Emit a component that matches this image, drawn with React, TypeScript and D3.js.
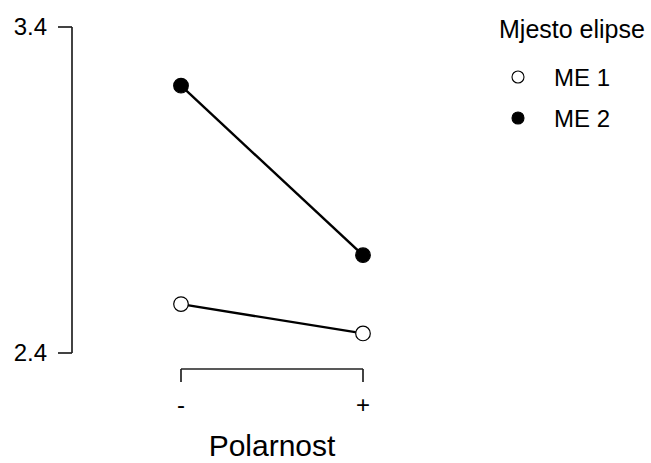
import * as d3 from "d3";

// Interaction plot: mean per polarity level, one line per ellipse position
const levels = ["-", "+"];
const me1 = [2.55, 2.46];
const me2 = [3.22, 2.7];
const yTicks = [2.4, 3.4];
const seriesNames = ["ME 1", "ME 2"];

const FONT = "'Liberation Sans', Arial, sans-serif";

export default function App() {
  const width = 651;
  const height = 463;

  const x = d3.scalePoint<string>().domain(levels).range([181, 363]);
  const y = d3.scaleLinear().domain([2.4, 3.4]).range([353, 27]);

  const line = d3
    .line<number>()
    .x((_, i) => x(levels[i])!)
    .y((d) => y(d));

  const series = [
    { name: seriesNames[0], values: me1, fill: "#fff" },
    { name: seriesNames[1], values: me2, fill: "#000" },
  ];

  const axisColor = "#222";
  const x0 = x(levels[0])!;
  const x1 = x(levels[levels.length - 1])!;
  const axisY = 369;

  return (
    <svg
      width={width}
      height={height}
      style={{ position: "absolute", left: 0, top: 0, background: "#fff" }}
      fontFamily={FONT}
    >
      {/* y axis */}
      <line x1={72} x2={72} y1={y(3.4)} y2={y(2.4)} stroke={axisColor} strokeWidth={1.7} />
      {yTicks.map((t) => (
        <g key={t}>
          <line x1={58} x2={72} y1={y(t)} y2={y(t)} stroke={axisColor} strokeWidth={1.7} />
          <text x={47} y={y(t)} dy="0.35em" textAnchor="end" fontSize={24} fill="#000">
            {t.toFixed(1)}
          </text>
        </g>
      ))}

      {/* x axis */}
      <line x1={x0} x2={x1} y1={axisY} y2={axisY} stroke={axisColor} strokeWidth={1.7} />
      {levels.map((l) => (
        <g key={l}>
          <line x1={x(l)} x2={x(l)} y1={axisY} y2={axisY + 13} stroke={axisColor} strokeWidth={1.7} />
          <text x={x(l)} y={413} textAnchor="middle" fontSize={24} fill="#000">
            {l}
          </text>
        </g>
      ))}
      <text x={272} y={456} textAnchor="middle" fontSize={30} fill="#000">
        Polarnost
      </text>

      {/* series */}
      {series.map((s) => (
        <g key={s.name}>
          <path d={line(s.values)!} fill="none" stroke="#000" strokeWidth={2.4} />
          {s.values.map((v, i) => (
            <circle
              key={i}
              cx={x(levels[i])}
              cy={y(v)}
              r={7.3}
              fill={s.fill}
              stroke="#000"
              strokeWidth={1.2}
            />
          ))}
        </g>
      ))}

      {/* legend */}
      <text x={499} y={38} fontSize={25} fill="#000">
        Mjesto elipse
      </text>
      {series.map((s, i) => (
        <g key={s.name} transform={`translate(0,${77 + i * 41})`}>
          <circle cx={518} cy={0} r={6} fill={s.fill} stroke="#000" strokeWidth={1.1} />
          <text x={554} y={0} dy="0.36em" fontSize={24} fill="#000">
            {s.name}
          </text>
        </g>
      ))}
    </svg>
  );
}
